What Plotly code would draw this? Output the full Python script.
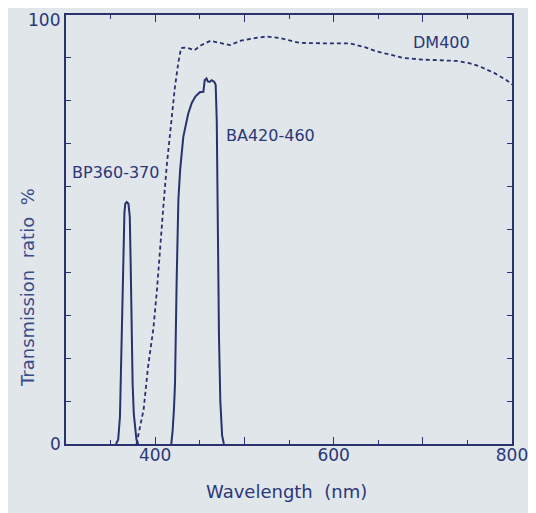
import plotly.graph_objects as go

# DM400 dichroic mirror (dashed)
dm_nm = [379, 381, 384, 387, 392, 398, 402, 405, 409, 413, 418, 422, 426, 429, 435, 444, 452,
         462, 472, 484, 496, 508, 525, 540, 552, 562, 590, 618, 635, 648, 663, 678, 700, 720,
         738, 752, 764, 780, 794, 800]
dm_t = [0, 2, 5, 8, 18, 27, 36, 45, 55, 65, 75, 83, 89, 92.3, 92.4, 91.8, 93,
        94, 93.5, 93, 94, 94.5, 95, 94.6, 94, 93.5, 93.4, 93.4, 92.5, 91.5, 90.8, 90, 89.6, 89.4,
        89.3, 88.8, 88, 86.5, 84.8, 83.8]

# BP360-370 excitation filter
bp_nm = [356, 358.5, 360.5, 362, 364.3, 365.5, 366.5, 368, 370, 371.5, 372.5, 373.5, 374.7,
         376, 377.5, 379, 381]
bp_t = [0, 1, 6.4, 22, 45, 54, 56, 56.4, 56, 53, 42, 28, 14, 7, 3, 1, 0]

# BA420-460 barrier filter
ba_nm = [418, 419.5, 421, 422.2, 424, 426, 428, 431.5, 437, 441, 445, 450, 454, 455.5, 457.5,
         459, 461, 463.3, 466.3, 467.8, 469, 470, 471.5, 473, 475, 477]
ba_t = [0, 3, 8, 14, 37.5, 57, 64, 71.6, 77, 79.5, 81, 82, 82.1, 84.8, 85.2,
        84.5, 84.4, 84.8, 84.4, 83.7, 75.5, 52, 25, 10, 2, 0]

x_tickvals = [300, 400, 500, 600, 700, 800]
x_ticktext = ["", "400", "", "600", "", "800"]
y_tickvals = [0, 10, 20, 30, 40, 50, 60, 70, 80, 90, 100]
y_ticktext = ["0", "", "", "", "", "", "", "", "", "", ""]
y_top_label = "100"
x_title = "Wavelength  (nm)"
y_title = "Transmission  ratio  %"

INK = "#28326e"
TXT = "#2b3778"
BG = "#e0e6ea"
FONT = "DejaVu Sans"

fig = go.Figure()
fig.add_trace(go.Scatter(x=dm_nm, y=dm_t, mode="lines",
                         line=dict(color=INK, width=1.8, dash="4px,3px")))
fig.add_trace(go.Scatter(x=bp_nm, y=bp_t, mode="lines",
                         line=dict(color=INK, width=2)))
fig.add_trace(go.Scatter(x=ba_nm, y=ba_t, mode="lines",
                         line=dict(color=INK, width=2)))

ann_font = dict(family=FONT, size=16, color=TXT)
fig.add_annotation(x=721, y=93.7, text="DM400", showarrow=False, font=ann_font)
fig.add_annotation(x=529, y=72, text="BA420-460", showarrow=False, font=ann_font)
fig.add_annotation(x=355, y=63.4, text="BP360-370", showarrow=False, font=ann_font)

# top y tick label (kept inside the page)
fig.add_annotation(xref="paper", yref="y", x=0, y=y_tickvals[-1], text=y_top_label,
                   xanchor="right", yanchor="top", xshift=-4, yshift=7, showarrow=False,
                   font=dict(family=FONT, size=17, color=TXT))

# axis titles
fig.add_annotation(xref="paper", yref="paper", x=0.4955, y=-0.111, text=x_title,
                   xanchor="center", yanchor="middle",
                   showarrow=False, font=dict(family=FONT, size=18, color=TXT))
fig.add_annotation(xref="paper", yref="paper", x=-0.0874, y=0.3636, text=y_title,
                   xanchor="center", yanchor="middle",
                   textangle=-90, showarrow=False,
                   font=dict(family=FONT, size=18, color="#3a4a8a"))

fig.update_layout(
    width=536, height=513,
    margin=dict(l=58, r=32, t=7, b=77, autoexpand=False),
    paper_bgcolor=BG, plot_bgcolor=BG,
    showlegend=False,
    font=dict(family=FONT, size=17, color=TXT),
    xaxis=dict(range=[300, 800], tickmode="array", tickvals=x_tickvals, ticktext=x_ticktext,
               ticks="inside", ticklen=7, tickwidth=1.2, tickcolor=INK,
               minor=dict(tickmode="linear", tick0=300, dtick=50, ticks="inside",
                          ticklen=4, tickcolor=INK),
               showline=True, linecolor=INK, linewidth=1.6, mirror="ticks",
               showgrid=False, zeroline=False, automargin=False,
               ticklabelstandoff=-5, ticklabeloverflow="allow",
               tickfont=dict(family=FONT, size=17, color=TXT)),
    yaxis=dict(range=[0, 100], tickmode="array", tickvals=y_tickvals, ticktext=y_ticktext,
               ticks="inside", ticklen=5, tickwidth=1.2, tickcolor=INK,
               showline=True, linecolor=INK, linewidth=1.6, mirror="ticks",
               showgrid=False, zeroline=False, automargin=False,
               ticklabeloverflow="allow",
               tickfont=dict(family=FONT, size=17, color=TXT)),
)

fig.write_html("out.html")
